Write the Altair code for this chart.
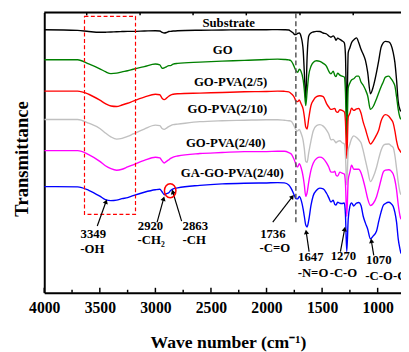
import math
import altair as alt
import pandas as pd

# ---------------- data ----------------
# wave numbers (cm-1) at which the spectra were read
W = [4000, 3700, 3600, 3500, 3450, 3400, 3349, 3300, 3250, 3200,
     3100, 3000, 2960, 2940, 2920, 2900, 2880, 2863, 2840, 2800,
     2600, 2400, 2200, 2000, 1900, 1840, 1800, 1780, 1760, 1745,
     1736, 1720, 1705, 1690, 1670, 1660, 1647, 1635, 1620, 1600,
     1580, 1550, 1520, 1490, 1460, 1440, 1420, 1400, 1385, 1375,
     1360, 1340, 1320, 1300, 1290, 1278, 1265, 1250, 1235, 1215,
     1190, 1170, 1150, 1130, 1110, 1090, 1065, 1040, 1010, 990,
     970, 950, 930, 900, 880, 860, 845, 830, 815, 800, 790]

# readings as distance below the frame top (a.u.); converted to offset transmittance below
SUBSTRATE = [26.7, 27.3, 28.5, 29.3, 29.2, 29.0, 28.7, 28.5, 28.3, 28.3,
             28.0, 27.7, 28.0, 29.3, 30.0, 29.5, 28.5, 28.3, 28.0, 27.7,
             27.2, 27.0, 26.7, 26.7, 26.5, 26.7, 27.0, 28.3, 30.0, 31.7,
             31.7, 30.5, 30.0, 33.3, 48, 70, 98, 55, 33, 30,
             29, 28.3, 28.5, 30, 31, 33, 34.3, 33, 35, 37.5,
             35.3, 36.5, 38, 40, 52, 115, 50, 45, 40, 37,
             35, 40, 46.7, 51.7, 58, 70, 92, 85, 70, 58,
             45, 40, 38.5, 39, 42, 50, 60, 78, 100, 108, 110]
GO = [57.3, 57.3, 61.5, 66.5, 69.5, 71.5, 71.0, 69.7, 68.5, 67.0,
      64.3, 61.7, 62.5, 66.0, 65.5, 64.5, 63.3, 63.3, 61.7, 61.0,
      59.7, 58.7, 58.0, 57.0, 56.7, 57.0, 57.5, 58.3, 62, 66,
      68.3, 70, 67, 69, 78, 88, 104, 90, 73, 64,
      60, 58.3, 59, 61, 64, 69, 71.7, 69, 73.5, 74.5,
      71, 73, 74, 75, 90, 140, 86, 81, 78, 76.7,
      74, 74, 80, 83.3, 88, 94, 108, 105, 97, 91,
      85, 80, 75, 74, 76.5, 80, 84, 95, 108, 116, 118]
GO_PVA_2_5 = [89.3, 89.3, 92.5, 98.5, 102, 104.5, 105, 103.5, 101.7, 99.5,
              95.5, 92.5, 93, 96.5, 98, 96.5, 94.5, 93.3, 92.5, 92,
              91.3, 90.7, 90, 89.7, 89.3, 89.5, 90, 91.7, 94, 97,
              99.5, 100, 98.3, 102, 108, 115, 126, 128, 117, 104,
              99, 95, 94, 95, 102, 105.5, 108, 107.5, 107, 110,
              111, 108.3, 109, 110.5, 120, 158, 116, 112, 106.7, 109,
              107.5, 107, 111.7, 121, 128, 136, 143.3, 140, 134, 129,
              120, 115, 113.3, 115, 118, 122, 130, 140, 147, 150, 152]
GO_PVA_2_10 = [118.3, 118.3, 122, 127.5, 132, 136, 138.3, 137.5, 135.5, 133,
               128, 124, 124.5, 127.5, 128.3, 127, 125.5, 124.5, 123.5, 123,
               120.5, 119.5, 119, 118.5, 118.5, 119, 119.5, 120, 123, 126.7,
               128.5, 130, 128.3, 132, 140, 148, 161, 162, 152, 140,
               130, 124.5, 123.5, 125, 129, 133, 139, 138.5, 140.5, 142,
               140.5, 140, 142, 143.3, 155, 185, 150, 143.3, 138, 135,
               136.7, 139, 142, 150, 160, 170, 181.7, 177, 167, 158,
               150, 145, 143.5, 143.3, 145, 147, 155, 168, 182, 192, 195]
GO_PVA_2_40 = [150, 150, 154, 161, 165.5, 168.5, 170, 169, 166.7, 164.5,
               160, 156.8, 157.5, 160.5, 162.7, 161, 159.5, 158, 156.7, 155.5,
               153, 152, 151, 151, 150.7, 150.7, 152, 153.3, 157, 161,
               164, 166.7, 163.3, 167, 177, 185, 196.7, 193, 182, 170,
               163, 158, 156.7, 158, 162.5, 166.7, 172, 172, 171, 175,
               176, 172, 173, 174, 183, 217, 180, 172, 165, 169,
               169, 169, 172.5, 180, 189, 199, 206, 204, 197, 189,
               180, 172, 170, 169.5, 170.7, 174, 180, 190, 205, 216, 220]
GA_GO_PVA_2_40 = [186.7, 187, 190.5, 196.5, 200, 201, 200.5, 199, 198, 196,
                  192.5, 190, 189.5, 192, 195, 194, 193, 190.7, 189, 188,
                  185.5, 184, 183.3, 183, 182.7, 183, 185, 188.3, 193, 197,
                  199, 199.3, 196.7, 200, 210, 217, 226, 228, 221, 206,
                  196, 190.5, 188.3, 189, 193.5, 198, 202.5, 200.7, 205, 205.5,
                  202.7, 203.7, 204, 203.5, 215, 253, 220, 207, 203.3, 206.5,
                  203.5, 203, 206, 217, 224, 230, 240, 237, 232, 222,
                  213, 206, 204, 202.7, 204, 207, 213, 223, 240, 250, 255]

SERIES = ["Substrate", "GO", "GO-PVA(2/5)", "GO-PVA(2/10)", "GO-PVA(2/40)", "GA-GO-PVA(2/40)"]
READINGS = [SUBSTRATE, GO, GO_PVA_2_5, GO_PVA_2_10, GO_PVA_2_40, GA_GO_PVA_2_40]
COLORS = ["#000000", "#008000", "#ff0000", "#c0c0c0", "#ff00ff", "#0000ff"]

# curve name labels (wave number, offset transmittance)
LABEL_W = [2341, 2394, 2323, 2352, 2367, 2308]
LABEL_T = [280, 253, 220, 192.7, 157.3, 126.7]

# band annotations
ANN_TEXT = ["3349", "-OH", "2920", "-CH\u2082", "2863", "-CH", "1736", "-C=O",
            "1647", "-N=O", "1270", "-C-O", "1070"]
ANN_W = [3559, 3568, 3044, 3038, 2641, 2650, 1943, 1926, 1602, 1582, 1308, 1308, 990]
ANN_T = [65, 50, 72.7, 59, 73.3, 59, 65, 51, 41.7, 25, 42, 25, 38.3]
ANN2_TEXT = ["-C-O-C"]
ANN2_W = [1111]
ANN2_T = [22]

# arrows: tail -> head
ARR_W1 = [3523, 2985, 2764, 1944, 1617, 1335, 1035]
ARR_T1 = [73, 76.7, 78, 77, 47, 47, 43]
ARR_W2 = [3444, 2926, 2844, 1767, 1643, 1297, 1057]
ARR_T2 = [98, 101, 108, 103, 67, 70, 58]

# highlight marks
BOX_W = [3638, 3179]
BOX_T = [287, 85]
DASH_W = [1736]
DASH_T = [290, 77]
CIRCLE_W = [2867]
CIRCLE_T = [109]

# axis ticks
MAJOR = [4000, 3500, 3000, 2500, 2000, 1500, 1000]
MINOR = [3750, 3250, 2750, 2250, 1750, 1250]
TOP_TICKS = [3618, 3138, 2661, 2182, 1699, 1220]

# ---------------- chart ----------------
PW, PH = 364, 286
XDOM = [790, 4000]
YDOM = [5, 291]
FONT = "Liberation Serif"

rows = []
for name, vals in zip(SERIES, READINGS):
    for w, v in zip(W, vals):
        rows.append({"w": w, "T": 300 - v, "series": name})
curves = pd.DataFrame(rows)

xs = alt.Scale(domain=XDOM, reverse=True, nice=False, zero=False)
ys = alt.Scale(domain=YDOM, nice=False, zero=False)

XAXIS = alt.Axis(
    values=MAJOR, format="d", ticks=False, tickSize=0, grid=False,
    domainColor="black", domainWidth=2, labelFlush=False, labelOverlap=False,
    labelFont=FONT, labelFontWeight="bold", labelFontSize=16, labelColor="black",
    labelPadding=20, labelBaseline="alphabetic", labelAlign="center",
    title="Wave number (cm\u207b\u00b9)", titleFont=FONT, titleFontSize=18,
    titleFontWeight="bold", titleColor="black", titleX=187.5, titleY=55.5,
    titleBaseline="alphabetic", titleAlign="center")
YAXIS = alt.Axis(
    labels=False, ticks=False, tickSize=0, grid=False,
    domainColor="black", domainWidth=2,
    title="Transmittance", titleFont=FONT, titleFontSize=19, titleFontWeight="bold",
    titleColor="black", titleX=-23, titleY=149, titleAngle=270,
    titleBaseline="middle", titleAlign="center")


def X(field):
    return alt.X(field, scale=xs, axis=XAXIS, title="Wave number (cm\u207b\u00b9)")


def Y(field):
    return alt.Y(field, scale=ys, axis=YAXIS, title="Transmittance")


lines = alt.Chart(curves).mark_line(strokeWidth=1.4, interpolate="monotone", clip=True).encode(
    x=X("w:Q"), y=Y("T:Q"),
    color=alt.Color("series:N", scale=alt.Scale(domain=SERIES, range=COLORS), legend=None),
    order=alt.Order("w:Q", sort="descending"),
)

names = alt.Chart(pd.DataFrame({"name": SERIES, "w": LABEL_W, "T": LABEL_T})).mark_text(
    font=FONT, fontWeight="bold", fontSize=13, color="black", align="center", baseline="middle"
).encode(x=X("w:Q"), y=Y("T:Q"), text="name:N")

ann = alt.Chart(pd.DataFrame({"t": ANN_TEXT, "w": ANN_W, "T": ANN_T})).mark_text(
    font=FONT, fontWeight="bold", fontSize=13, color="black", align="center", baseline="middle"
).encode(x=X("w:Q"), y=Y("T:Q"), text="t:N")

ann2 = alt.Chart(pd.DataFrame({"t": ANN2_TEXT, "w": ANN2_W, "T": ANN2_T})).mark_text(
    font=FONT, fontWeight="bold", fontSize=13, color="black", align="left", baseline="middle"
).encode(x=X("w:Q"), y=Y("T:Q"), text="t:N")

pxw = PW / (XDOM[1] - XDOM[0])
pxt = PH / (YDOM[1] - YDOM[0])
angles = []
for w1, t1, w2, t2 in zip(ARR_W1, ARR_T1, ARR_W2, ARR_T2):
    dx = (w1 - w2) * pxw
    dy = (t1 - t2) * pxt
    angles.append(math.degrees(math.atan2(dx, -dy)) % 360)
arr_df = pd.DataFrame({"w": ARR_W1, "T": ARR_T1, "w2": ARR_W2, "T2": ARR_T2, "a": angles})

arrow_lines = alt.Chart(arr_df).mark_rule(color="black", strokeWidth=1.2).encode(
    x=X("w:Q"), y=Y("T:Q"), x2="w2:Q", y2="T2:Q")
arrow_heads = alt.Chart(arr_df).mark_point(shape="triangle-up", filled=True, color="black",
                                           size=28, opacity=1).encode(
    x=X("w2:Q"), y=Y("T2:Q"), angle=alt.Angle("a:Q", scale=None))

box = alt.Chart(pd.DataFrame({"w": [BOX_W[0]], "w2": [BOX_W[1]], "T": [BOX_T[0]], "T2": [BOX_T[1]]})).mark_rect(
    fillOpacity=0, stroke="#ff0000", strokeWidth=1.2, strokeDash=[4, 2.5]
).encode(x=X("w:Q"), x2="w2:Q", y=Y("T:Q"), y2="T2:Q")

vdash = alt.Chart(pd.DataFrame({"w": DASH_W, "T": [DASH_T[0]], "T2": [DASH_T[1]]})).mark_rule(
    color="#555555", strokeWidth=1.5, strokeDash=[5, 3]
).encode(x=X("w:Q"), y=Y("T:Q"), y2="T2:Q")

ellipse = alt.Chart(pd.DataFrame({"w": CIRCLE_W, "T": CIRCLE_T})).mark_point(
    shape="M-0.82,0A0.82,1,0,1,1,0.82,0A0.82,1,0,1,1,-0.82,0Z",
    filled=False, color="#ff0000", strokeWidth=1.5, size=205, opacity=1
).encode(x=X("w:Q"), y=Y("T:Q"))

major = alt.Chart(pd.DataFrame({"w": MAJOR})).mark_rule(color="black", strokeWidth=1.5).encode(
    x=X("w:Q"), y=alt.value(PH), y2=alt.value(PH - 5))
minor = alt.Chart(pd.DataFrame({"w": MINOR})).mark_rule(color="black", strokeWidth=1.5).encode(
    x=X("w:Q"), y=alt.value(PH), y2=alt.value(PH - 3))
topt = alt.Chart(pd.DataFrame({"w": TOP_TICKS})).mark_rule(color="black", strokeWidth=1.5).encode(
    x=X("w:Q"), y=alt.value(0), y2=alt.value(3))
topline = alt.Chart(pd.DataFrame({"w": [XDOM[0]]})).mark_rule(color="black", strokeWidth=2).encode(
    x=alt.value(0), x2=alt.value(PW), y=alt.value(0))

chart = alt.layer(
    lines, box, vdash, names, ann, ann2, arrow_lines, arrow_heads, ellipse,
    major, minor, topt, topline
).properties(
    width=PW, height=PH,
    padding={"left": 37, "top": 1, "right": 0, "bottom": 57},
    autosize=alt.AutoSizeParams(type="none"),
).configure_view(stroke=None).configure(background="white")

chart.save("out.html", embed_options={"renderer": "svg", "actions": False})
